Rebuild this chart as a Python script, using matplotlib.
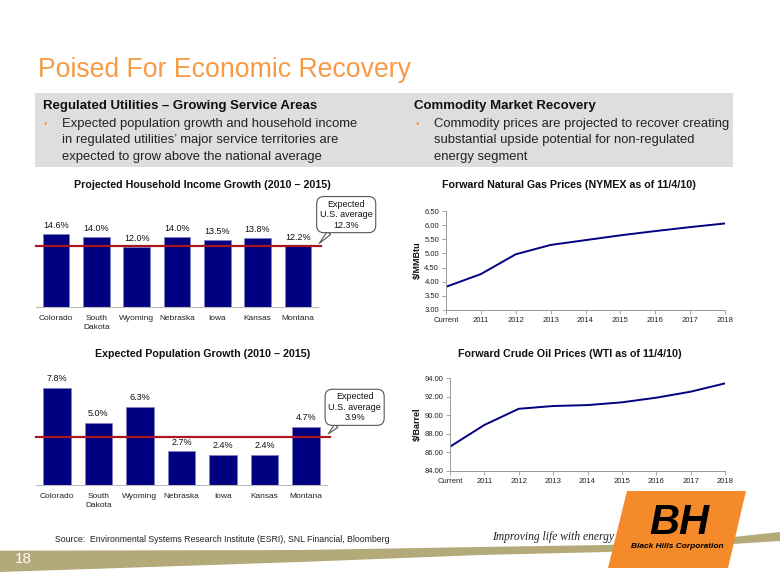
import matplotlib
matplotlib.use("Agg")
import matplotlib.pyplot as plt
from matplotlib.patches import Polygon, Rectangle
import numpy as np

plt.rcParams['font.family'] = ['Liberation Sans', 'DejaVu Sans']

# ---------------- data ----------------
states = ["Colorado", "South\nDakota", "Wyoming", "Nebraska", "Iowa", "Kansas", "Montana"]
income_growth = [14.6, 14.0, 12.0, 14.0, 13.5, 13.8, 12.2]
income_us_avg = 12.3
pop_growth = [7.8, 5.0, 6.3, 2.7, 2.4, 2.4, 4.7]
pop_us_avg = 3.9

years = ["Current", "2011", "2012", "2013", "2014", "2015", "2016", "2017", "2018"]
gas_prices = [3.82, 4.27, 4.97, 5.30, 5.47, 5.64, 5.79, 5.93, 6.06]
oil_prices = [86.6, 88.95, 90.7, 91.0, 91.1, 91.4, 91.9, 92.55, 93.45]

W, H = 780, 585
fig = plt.figure(figsize=(7.8, 5.85), dpi=100)
fig.patch.set_facecolor("white")

def fx(px):
    return px / W

def fy(py):
    return 1 - py / H

NAVY = "#000080"
RED = "#A8181E"
ORANGE = "#F79A45"

# ---------------- header ----------------
fig.text(fx(38), fy(70), "Poised For Economic Recovery", color=ORANGE,
         fontsize=19.2, ha="left", va="center")

fig.patches.append(Rectangle((fx(35), fy(167)), fx(733) - fx(35), fy(93) - fy(167),
                             transform=fig.transFigure, facecolor="#DEDEDE",
                             edgecolor="none", zorder=0))

fig.text(fx(43), fy(106), "Regulated Utilities \u2013 Growing Service Areas",
         fontsize=9.5, fontweight="bold", color="#111111", ha="left", va="center")
fig.text(fx(414), fy(106), "Commodity Market Recovery",
         fontsize=9.5, fontweight="bold", color="#111111", ha="left", va="center")

left_lines = ["Expected population growth and household income",
              "in regulated utilities\u2019 major service territories are",
              "expected to grow above the national average"]
right_lines = ["Commodity prices are projected to recover creating",
               "substantial upside potential for non-regulated",
               "energy segment"]
for i, (l, r) in enumerate(zip(left_lines, right_lines)):
    yy = 124 + i * 16.5
    fig.text(fx(62), fy(yy), l, fontsize=9.35, color="#222222", ha="left", va="center")
    fig.text(fx(434), fy(yy), r, fontsize=9.35, color="#222222", ha="left", va="center")
fig.text(fx(44), fy(124), "\u2022", fontsize=7, color=ORANGE, ha="left", va="center")
fig.text(fx(416), fy(124), "\u2022", fontsize=7, color=ORANGE, ha="left", va="center")

# ---------------- chart titles ----------------
title_kw = dict(fontsize=7.7, fontweight="bold", color="#111111", ha="center", va="center")
fig.text(fx(202), fy(185), "Projected Household Income Growth (2010 \u2013 2015)", **title_kw)
fig.text(fx(203), fy(354), "Expected Population Growth (2010 \u2013 2015)", **title_kw)
fig.text(fx(569), fy(185), "Forward Natural Gas Prices (NYMEX as of 11/4/10)", **title_kw)
fig.text(fx(570), fy(354), "Forward Crude Oil Prices (WTI as of 11/4/10)", **title_kw)


def bar_chart(rect, values, avg, ymax, callout_xy):
    ax = fig.add_axes(rect)
    x = np.arange(len(values))
    ax.bar(x, values, width=0.66, color=NAVY, edgecolor="#8080C0", linewidth=0.5, zorder=2)
    ax.set_xlim(-0.5, len(values) - 0.5)
    ax.set_ylim(0, ymax)
    for xi, v in zip(x, values):
        ax.text(xi, v + ymax * 0.045, f"{v:.1f}%", ha="center", va="bottom",
                fontsize=6.5, color="#111111", clip_on=False)
    ax.axhline(avg, color=RED, linewidth=1.6, zorder=3, xmin=0, xmax=1.01, clip_on=False)
    for s in ["top", "right", "left"]:
        ax.spines[s].set_visible(False)
    ax.spines["bottom"].set_color("#BBBBBB")
    ax.set_yticks([])
    ax.set_xticks(x)
    ax.set_xticklabels(states, fontsize=6, color="#222222", linespacing=1.3)
    ax.tick_params(axis="x", length=0, pad=6)
    ax.patch.set_alpha(0)
    ax.annotate("Expected\nU.S. average\n" + f"{avg:.1f}%",
                xy=(len(values) - 0.47, avg + ymax * 0.025), xycoords="data",
                xytext=callout_xy, textcoords="axes fraction",
                ha="center", va="center", fontsize=6.5, color="#111111",
                linespacing=1.2,
                bbox=dict(boxstyle="round,pad=0.35,rounding_size=0.8", fc="white",
                          ec="#555555", lw=0.8),
                arrowprops=dict(arrowstyle="wedge,tail_width=0.5,shrink_factor=0.5",
                                fc="white", ec="#555555", lw=0.8,
                                shrinkA=0, shrinkB=0),
                annotation_clip=False, zorder=5)
    return ax


bar_chart([fx(36), fy(307), fx(318) - fx(36), (307 - 224.5) / H],
          income_growth, income_us_avg, 16.5, (1.10, 1.12))
bar_chart([fx(36), fy(485), fx(327) - fx(36), (485 - 379.3) / H],
          pop_growth, pop_us_avg, 8.5, (1.095, 0.735))


def line_chart(rect, values, ylim, step, ylabel):
    ax = fig.add_axes(rect)
    x = np.arange(len(values))
    ax.plot(x, values, color=NAVY, linewidth=1.4, solid_joinstyle="round")
    ax.set_xlim(0, len(values) - 1)
    ax.set_ylim(*ylim)
    ticks = np.arange(ylim[0], ylim[1] + step / 2, step)
    ax.set_yticks(ticks)
    ax.set_yticklabels([f"{v:.2f}" for v in ticks])
    ax.set_xticks(x)
    ax.set_xticklabels(years)
    for s in ["top", "right"]:
        ax.spines[s].set_visible(False)
    for s in ["left", "bottom"]:
        ax.spines[s].set_color("#999999")
        ax.spines[s].set_linewidth(0.7)
    ax.tick_params(axis="both", labelsize=5.5, colors="#999999", labelcolor="#222222",
                   length=3, width=0.6, pad=2)
    ax.set_ylabel(ylabel, fontsize=6.5, fontweight="bold", color="#111111", labelpad=2)
    ax.patch.set_alpha(0)
    return ax


line_chart([fx(446), fy(310), fx(725) - fx(446), (310 - 211) / H],
           gas_prices, (3.0, 6.5), 0.5, "$/MMBtu")
line_chart([fx(450), fy(470.7), fx(725) - fx(450), (470.7 - 378.3) / H],
           oil_prices, (84.0, 94.0), 2.0, "$/Barrel")

# ---------------- footer ----------------
fig.text(fx(55), fy(540),
         "Source:  Environmental Systems Research Institute (ESRI), SNL Financial, Bloomberg",
         fontsize=6.3, color="#222222", ha="left", va="center")

band_top = [(0, 550.7), (300, 550), (480, 547), (607, 545), (733, 537), (780, 532)]
band_bot = [(780, 541), (733, 544), (607, 552), (480, 555), (300, 562), (0, 572)]
band = [(fx(a), fy(b)) for a, b in band_top + band_bot]
fig.patches.append(Polygon(band, closed=True, transform=fig.transFigure,
                           facecolor="#B3A979", edgecolor="none", zorder=1))
fig.text(fx(15), fy(559), "18", fontsize=11, color="white", ha="left", va="center")

fig.text(fx(553), fy(537), "Improving life with energy", fontsize=8.3,
         family="Liberation Serif", style="italic", color="#222222",
         ha="center", va="center")

logo = [(fx(627), fy(491)), (fx(746), fy(491)), (fx(728), fy(568)), (fx(608), fy(568))]
fig.patches.append(Polygon(logo, closed=True, transform=fig.transFigure,
                           facecolor="#F58A2B", edgecolor="none", zorder=2))
fig.text(fx(679), fy(523), "BH", fontsize=30, fontweight="bold", style="italic",
         color="black", ha="center", va="center", zorder=3)
fig.text(fx(677), fy(547), "Black Hills Corporation", fontsize=6, fontweight="bold",
         style="italic", color="black", ha="center", va="center", zorder=3)

fig.savefig("out.png", dpi=100, facecolor="white")
